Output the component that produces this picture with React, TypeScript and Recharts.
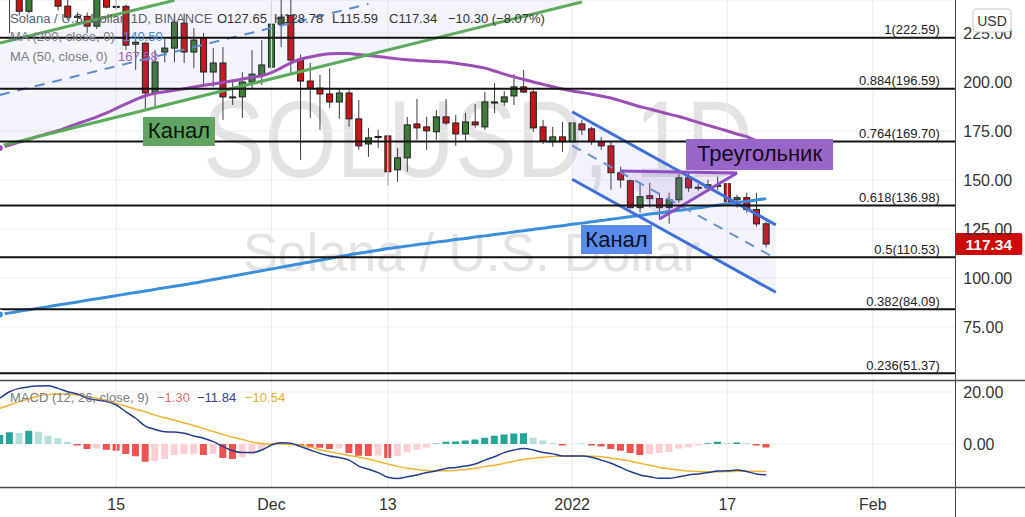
import React from 'react';
import { ComposedChart, Bar, Line, XAxis, YAxis, CartesianGrid, ReferenceLine, Cell } from 'recharts';

const FONT = '"Liberation Sans", Arial, sans-serif';

// one category per trading day, 3 Nov 2021 .. 9 Feb 2022 (empty space after the last candle)
const firstDay = Date.UTC(2021, 10, 3);
const days: string[] = Array.from({ length: 99 }, (_, i) =>
  new Date(firstDay + i * 86400000).toISOString().slice(0, 10)
);

const timeTicks: Record<string, string> = {
  '2021-11-15': '15',
  '2021-12-01': 'Dec',
  '2021-12-13': '13',
  '2022-01-01': '2022',
  '2022-01-17': '17',
  '2022-02-01': 'Feb',
};
const gridDays = Object.keys(timeTicks);

const opens = [
  244, 248, 245, 236.1, 250, 253, 249, 238.7, 233.1, 233.5,
  228.5, 243, 238.2, 238.6, 219.3, 219.8, 194.4, 215.3, 217.3, 230,
  215.3, 222.4, 205.1, 209.7, 192.4, 192.4, 200, 203.6, 207.6, 229.5,
  234, 211.7, 200.5, 196.9, 193.9, 189.8, 194.4, 181.2, 168.4, 172,
  172.5, 155.2, 161.3, 178.6, 177.1, 174.6, 182.2, 179.1, 173.5, 179.6,
  177.1, 189.8, 189.8, 192.9, 197.5, 194.9, 177.1, 169.5, 172, 169.5,
  178.6, 176.1, 169.5, 167.4, 153.7, 149.6, 135.9, 142, 140.5, 135.9,
  139.9, 151.1, 146, 146, 147.1, 148.1, 139.9, 141, 134.9, 127.65,
];
const highs = [
  251, 254, 250, 253, 258, 260, 252, 246, 235.5, 235.5,
  247, 246, 244, 239.5, 222.4, 220.5, 216.3, 222, 235, 235,
  227.5, 225, 217.3, 217.8, 201, 205, 216.3, 221.4, 240.7, 243,
  244, 214, 209.7, 203.6, 207, 197, 195.9, 190.8, 176.6, 175.6,
  173, 166.4, 182.2, 191.3, 182.2, 185.8, 191.3, 183.2, 184.2, 188.8,
  194.9, 199.5, 195.4, 204, 206.1, 195.9, 180.7, 177.1, 179.6, 179.6,
  180.7, 177.1, 172, 169.5, 156.7, 150.1, 148.6, 148.6, 143.5, 143.5,
  153.2, 153.7, 148, 150.1, 151.7, 148.6, 142.5, 143.5, 143.5, 128.78,
];
const lows = [
  242, 225, 234, 235, 245, 246, 236.5, 231.6, 230.5, 225,
  227, 237.5, 236.6, 216.3, 206.1, 186.3, 187.3, 210, 210, 209.7,
  207, 197.5, 197.5, 180.7, 188.3, 181.7, 197, 198.5, 206, 217.8,
  203.6, 160.3, 181.7, 175.6, 186.8, 181.2, 177.1, 165.4, 161.8, 166.4,
  147.1, 149.1, 154.2, 170.5, 165.4, 170.5, 178.1, 167.4, 169.5, 176.6,
  175.6, 184.2, 187.8, 188.3, 194.4, 174.6, 168.4, 166.9, 164.4, 169,
  173, 167.9, 165.4, 145, 146, 135.4, 133.3, 135.9, 129.8, 127.7,
  138.4, 144, 144.5, 145, 145, 138.4, 135.9, 133.3, 126.2, 115.59,
];
const closes = [
  248, 245, 236.1, 250, 253, 249, 238.7, 233.1, 233.5, 228.5,
  243, 238.2, 238.6, 218.8, 220.3, 194.4, 210.2, 217.3, 230.5, 215.3,
  221.4, 205.1, 209.7, 192.4, 192, 200, 204, 208.7, 229.5, 233.1,
  211.2, 200.5, 196.9, 193.9, 189.8, 194.4, 181.2, 167.4, 171.5, 172.2,
  154.2, 161.3, 178.1, 176.6, 175.1, 182.2, 179.1, 173.5, 179.6, 178.1,
  189.8, 189.5, 192.4, 197.5, 194.9, 176.6, 170, 172, 169.5, 179.1,
  175.6, 169.5, 167.4, 153.7, 150.1, 135.9, 141.5, 140.5, 135.9, 139.9,
  151.1, 146, 146.3, 147.6, 147.3, 138.9, 141, 134.9, 127.6, 117.34,
];
const ma50 = [
  166.3, 167.8, 169.3, 170.8, 172.3, 173.7, 175.2, 177, 178.8, 180.4,
  182.2, 184.2, 186.5, 188.8, 191, 193, 194.2, 195, 195.8, 196.6,
  197.4, 198.3, 199, 199.8, 200.6, 201.5, 202.4, 203.2, 204.8, 207.2,
  209.8, 211.6, 212.8, 213.8, 214.4, 214.6, 214.5, 214, 213.5, 213,
  212.4, 211.8, 211.4, 211, 210.7, 210.4, 210.2, 209.6, 208.8, 208,
  207.1, 205.6, 204, 202.6, 201.3, 200, 198.8, 197.6, 196.4, 195.4,
  194.6, 193.8, 192.9, 191.8, 190.4, 188.9, 187.4, 186.2, 184.9, 183.6,
  182.4, 180.9, 179.4, 177.9, 176.5, 175, 173.5, 172.1, 169.9, 167.6,
];
const ma200 = [
  81.4, 82.2, 83, 83.8, 84.6, 85.4, 86.2, 87, 87.8, 88.6,
  89.4, 90.2, 91, 91.8, 92.6, 93.4, 94.2, 95, 95.8, 96.6,
  97.4, 98.3, 99.2, 100.1, 101, 101.9, 102.8, 103.7, 104.6, 105.5,
  106.4, 107.3, 108.2, 109.1, 110, 110.9, 111.8, 112.6, 113.4, 114.2,
  115, 115.7, 116.3, 117, 117.6, 118.3, 118.9, 119.6, 120.2, 120.9,
  121.5, 122.2, 122.8, 123.5, 124.1, 124.8, 125.4, 126.1, 126.7, 127.4,
  128, 128.7, 129.3, 130, 130.6, 131.3, 131.9, 132.6, 133.2, 133.9,
  134.5, 135.2, 135.8, 136.5, 137.1, 137.8, 138.4, 139.1, 139.8, 140.5,
];
const macdLine = [
  17.6, 20.1, 21.4, 22, 22.3, 22.4, 21.4, 20.1, 19.2, 17.6,
  16.9, 16.3, 15, 12.4, 9.9, 6.9, 5.6, 4.7, 4.6, 4.1,
  3.1, 2.2, 0.9, -1, -2.6, -3.3, -3.3, -2.3, -0.4, 0.5,
  0.3, -1, -2.3, -3.6, -4.6, -5.2, -6.2, -8.5, -9.7, -11,
  -12.8, -13.3, -12.6, -11.9, -11, -10.3, -9.4, -9, -8.5, -7.7,
  -6.2, -4.9, -3.3, -2.3, -1.7, -2.3, -3.3, -3.8, -4.6, -4.6,
  -4.6, -5.1, -6.2, -7.4, -9, -10.6, -11.9, -12.6, -13.2, -13.2,
  -12.6, -11.9, -11.5, -11, -10.4, -10.3, -10, -10.6, -11.5, -11.84,
];
const signalLine = [
  13.7, 15, 16.3, 17.4, 18.5, 19, 19.2, 19.1, 18.8, 18.3,
  17.6, 16.7, 15.6, 14.5, 13.4, 12.4, 11.1, 10.1, 9.1, 8.1,
  7.1, 6, 4.8, 3.7, 2.6, 1.7, 0.8, 0.2, 0, 0,
  -0.2, -0.5, -1.1, -2.3, -3, -3.7, -4.4, -5.1, -5.8, -6.7,
  -7.7, -8.6, -9.3, -9.8, -10.2, -10.3, -10.3, -10.1, -9.8, -9.3,
  -8.7, -8.2, -7.4, -6.6, -6, -5.5, -5.1, -4.8, -4.6, -4.6,
  -4.6, -4.7, -4.9, -5.4, -6, -6.6, -7.4, -8.2, -9, -9.5,
  -10, -10.4, -10.6, -10.7, -10.7, -10.6, -10.5, -10.5, -10.5, -10.54,
];
const histogram = [
  3.5, 4.5, 4.2, 5.1, 4.7, 3.2, 2.2, 0.9, -0.6, -1.9,
  -1.7, -2.2, -2.6, -3.8, -4.7, -6.8, -6.4, -5.8, -4.2, -3.8,
  -3.8, -4.2, -3.8, -5.4, -5.8, -5.1, -3.8, -2.6, -0.3, 0.5,
  0.3, -0.9, -1.3, -1.4, -1.9, -1.7, -3.5, -4.5, -4.6, -4.4,
  -5.4, -4.7, -3.2, -2.2, -1.3, 0.2, 0.9, 1, 1.3, 1.7,
  2.4, 3.2, 3.7, 4, 4.1, 2.4, 1.3, 0.4, -0.6, 0,
  0.1, -0.6, -1, -1.9, -2.6, -3.5, -4.2, -3.8, -3.5, -3.2,
  -1.7, -1.3, -0.6, 0.3, 0.9, 0.4, 0.6, 0.4, -0.6, -1.3,
];

const priceTicks = [50, 75, 100, 125, 150, 175, 200, 225];
const macdTicks = [0, 20];

const fibLevels = [
  { value: 222.59, label: '1(222.59)' },
  { value: 196.59, label: '0.884(196.59)' },
  { value: 169.7, label: '0.764(169.70)' },
  { value: 136.98, label: '0.618(136.98)' },
  { value: 110.53, label: '0.5(110.53)' },
  { value: 84.09, label: '0.382(84.09)' },
  { value: 51.37, label: '0.236(51.37)' },
];

// drawings: [day index, price]
type Pt = [number, number];
const greenUpper: Pt[] = [[0, 219.9], [18, 241.7]];
const greenLower: Pt[] = [[0, 167.35], [60, 240.8]];
const greenMiddle: Pt[] = [[0, 193.4], [38, 239.8]];
const greenFill: Pt[] = [[0, 167.35], [60, 240.8], [60, 292.6], [0, 219.9]];
const blueUpper: Pt[] = [[59, 184.8], [80, 127.1]];
const blueLower: Pt[] = [[59, 150.4], [80, 92.7]];
const blueMiddle: Pt[] = [[59, 167.6], [80, 109.9]];
const blueFill: Pt[] = [[59, 184.8], [80, 127.1], [80, 92.7], [59, 150.4]];
const triangleTop: Pt[] = [[64, 154.6], [76, 153.6]];
const triangleSide: Pt[] = [[68, 130.1], [76, 153.6]];
const triangleFill: Pt[] = [[64, 154.6], [76, 153.6], [68, 130.1]];

const PRICE_MIN = 47.45;
const PRICE_MAX = 241.84;
const MACD_MIN = -16.92;
const MACD_MAX = 24.23;
const PLOT_W = 960.3;
const AXIS_W = 70;
const CHART_W = PLOT_W + AXIS_W;
const SHIFT = -4.85;

const priceRows = days.map((day, i) => ({
  day, o: opens[i], h: highs[i], l: lows[i], c: closes[i], ma50: ma50[i], ma200: ma200[i],
}));
const macdRows = days.map((day, i) => ({
  day, macd: macdLine[i], signal: signalLine[i], hist: histogram[i],
}));
const lastClose = closes[closes.length - 1];

const candleRange = (d: any) =>
  d.c == null || d.l >= PRICE_MAX ? null : [d.l, Math.min(d.h, PRICE_MAX)];

const Candle = (props: any) => {
  const { x, y, width, height, payload } = props;
  if (!payload || payload.c == null || !(height > 0)) return null;
  const top = Math.min(payload.h, PRICE_MAX);
  const k = height / (top - payload.l);
  const py = (v: number) => y + (top - v) * k;
  const cx = x + width / 2;
  const up = payload.c >= payload.o;
  const bodyTop = py(Math.max(payload.o, payload.c));
  const bodyH = Math.max(1, py(Math.min(payload.o, payload.c)) - bodyTop);
  return (
    <g>
      <line x1={cx} x2={cx} y1={py(payload.h)} y2={py(payload.l)} stroke="#3a3a3a" strokeWidth={1} />
      <rect x={x + 0.5} y={bodyTop} width={width - 1} height={bodyH}
        fill={up ? '#3d7c35' : '#c91414'} stroke="#1d1d1d" strokeWidth={1} />
    </g>
  );
};

const histColor = (i: number) => {
  const v = histogram[i];
  const prev = i > 0 ? histogram[i - 1] : 0;
  if (v >= 0) return v > prev ? '#26a69a' : '#b2dfdb';
  return v < prev ? '#ef5350' : '#ffcdd2';
};

const seg = (pts: Pt[]) => [
  { x: days[pts[0][0]], y: pts[0][1] },
  { x: days[pts[1][0]], y: pts[1][1] },
];

const drawLine = (key: string, pts: Pt[], stroke: string, width: number, dash?: string) => (
  <ReferenceLine key={key} ifOverflow="visible" segment={seg(pts) as any}
    stroke={stroke} strokeWidth={width} strokeDasharray={dash} />
);

// polygon placed with the pixel positions the axis scales give to its first two points
const drawFill = (key: string, pts: Pt[], fill: string) => (
  <ReferenceLine key={key} ifOverflow="visible" segment={seg(pts) as any}
    shape={(p: any) => {
      const { x1, y1, x2, y2 } = p;
      if ([x1, y1, x2, y2].some((v) => typeof v !== 'number' || isNaN(v))) return <g />;
      const sx = (x2 - x1) / (pts[1][0] - pts[0][0]);
      const sy = (y2 - y1) / (pts[1][1] - pts[0][1]);
      const points = pts
        .map((q) => `${x1 + (q[0] - pts[0][0]) * sx},${y1 + (q[1] - pts[0][1]) * sy}`)
        .join(' ');
      return <polygon points={points} fill={fill} stroke="none" />;
    }} />
);

const FibLabel = ({ viewBox, text }: any) => {
  if (!viewBox) return null;
  return (
    <text x={viewBox.x + viewBox.width - 15.5} y={viewBox.y - 3.5} textAnchor="end"
      fontSize={13} fill="#222">{text}</text>
  );
};

const PriceTag = ({ viewBox, text }: any) => {
  if (!viewBox) return null;
  const x = viewBox.x + viewBox.width;
  return (
    <g>
      <rect x={x} y={viewBox.y - 11} width={67} height={22} rx={2} fill="#cc0a0a" />
      <text x={x + 33.5} y={viewBox.y + 5.5} textAnchor="middle" fontSize={15.5}
        fontWeight="bold" fill="#fff">{text}</text>
    </g>
  );
};

const DateTick = ({ x, y, payload }: any) => {
  const label = timeTicks[payload?.value];
  if (!label) return null;
  return <text x={x} y={y} dy={14} textAnchor="middle" fontSize={16} fill="#333">{label}</text>;
};

export default function App() {
  return (
    <div style={{ position: 'absolute', left: 0, top: 0, width: 1025, height: 517, overflow: 'hidden', background: '#fff', fontFamily: FONT }}>
      <svg width={1025} height={517} style={{ position: 'absolute', left: 0, top: 0 }}>
        <text x={203} y={177} fontSize={110} fill="#e3e3e3" textLength={550} lengthAdjust="spacingAndGlyphs">SOLUSD, 1D</text>
        <text x={243} y={271} fontSize={53} fill="#e3e3e3" textLength={457} lengthAdjust="spacingAndGlyphs">Solana / U.S. Dollar</text>
      </svg>

      <div style={{ position: 'absolute', left: SHIFT, top: 0, width: CHART_W, height: 381, overflow: 'hidden' }}>
        <ComposedChart width={CHART_W} height={381} data={priceRows}
          margin={{ top: 0, right: 0, bottom: 0, left: 0 }} barCategoryGap="14%">
          <CartesianGrid vertical={false} stroke="#efefef" />
          <XAxis dataKey="day" hide />
          <YAxis orientation="right" width={AXIS_W} domain={[PRICE_MIN, PRICE_MAX]} allowDataOverflow
            ticks={priceTicks} tickFormatter={(v: number) => v.toFixed(2)} axisLine={false} tickLine={false}
            tick={{ fontSize: 16, fill: '#333' }} />
          {gridDays.map((d) => <ReferenceLine key={`g${d}`} x={d} stroke="#ebebeb" />)}
          {drawFill('gf', greenFill, 'rgba(120,120,215,0.08)')}
          {drawFill('bf', blueFill, 'rgba(110,125,220,0.09)')}
          {drawFill('tf', triangleFill, 'rgba(150,90,205,0.12)')}
          <Bar dataKey={candleRange} shape={(p: any) => <Candle {...p} />} isAnimationActive={false} />
          <Line dataKey="ma200" type="monotone" stroke="#3b8fda" strokeWidth={3} dot={false} isAnimationActive={false} />
          <Line dataKey="ma50" type="monotone" stroke="#9c50b6" strokeWidth={3} dot={false} isAnimationActive={false} />
          {drawLine('gu', greenUpper, '#5bab5b', 3)}
          {drawLine('gl', greenLower, '#5bab5b', 3)}
          {drawLine('gm', greenMiddle, '#5b8ad0', 2, '10 8')}
          {drawLine('bu', blueUpper, '#3f6fd9', 3)}
          {drawLine('bl', blueLower, '#3f6fd9', 3)}
          {drawLine('bm', blueMiddle, '#6b90cc', 2, '10 8')}
          {drawLine('tt', triangleTop, '#8d4fc3', 3)}
          {drawLine('ts', triangleSide, '#8d4fc3', 3)}
          {fibLevels.map((f) => (
            <ReferenceLine key={`f${f.value}`} y={f.value} stroke="#111" strokeWidth={2}
              label={<FibLabel text={f.label} />} />
          ))}
          <ReferenceLine y={lastClose} stroke="none" ifOverflow="visible"
            label={<PriceTag text={lastClose.toFixed(2)} />} />
        </ComposedChart>
      </div>

      <div style={{ position: 'absolute', left: SHIFT, top: 381, width: CHART_W, height: 136, overflow: 'hidden' }}>
        <ComposedChart width={CHART_W} height={136} data={macdRows}
          margin={{ top: 0, right: 0, bottom: 0, left: 0 }} barCategoryGap="12%">
          <CartesianGrid vertical={false} stroke="#efefef" />
          <XAxis dataKey="day" interval={0} height={29} tickLine={false} axisLine={false} tick={<DateTick />} />
          <YAxis orientation="right" width={AXIS_W} domain={[MACD_MIN, MACD_MAX]} allowDataOverflow
            ticks={macdTicks} tickFormatter={(v: number) => v.toFixed(2)} axisLine={false} tickLine={false}
            tick={{ fontSize: 16, fill: '#333' }} />
          {gridDays.map((d) => <ReferenceLine key={`m${d}`} x={d} stroke="#ebebeb" />)}
          <Bar dataKey="hist" isAnimationActive={false}>
            {macdRows.map((r, i) => <Cell key={r.day} fill={histColor(i)} />)}
          </Bar>
          <Line dataKey="signal" type="monotone" stroke="#f0b432" strokeWidth={1.5} dot={false} isAnimationActive={false} />
          <Line dataKey="macd" type="monotone" stroke="#223d8f" strokeWidth={1.5} dot={false} isAnimationActive={false} />
        </ComposedChart>
      </div>

      <svg width={1025} height={517} style={{ position: 'absolute', left: 0, top: 0, pointerEvents: 'none' }}>
        <line x1={0} x2={1025} y1={380.5} y2={380.5} stroke="#4a4a4a" strokeWidth={1.5} />
        <line x1={0} x2={1025} y1={487.5} y2={487.5} stroke="#4a4a4a" strokeWidth={1.5} />
        <line x1={955.5} x2={955.5} y1={0} y2={517} stroke="#4a4a4a" strokeWidth={1} />

        <text y={23} fontSize={13}>
          <tspan x={10} fill="#5d606b">Solana / U.S. Dollar, 1D, BINANCE</tspan>
          <tspan x={217} fill="#333">O127.65</tspan>
          <tspan x={274} fill="#333">H128.78</tspan>
          <tspan x={332} fill="#333">L115.59</tspan>
          <tspan x={389} fill="#333">C117.34</tspan>
          <tspan x={448} fill="#333">−10.30 (−8.07%)</tspan>
        </text>
        <text y={41} fontSize={13}>
          <tspan x={10} fill="#787b86">MA (200, close, 0)</tspan>
          <tspan x={123} fill="#3b8fda">140.50</tspan>
        </text>
        <text y={61} fontSize={13}>
          <tspan x={10} fill="#787b86">MA (50, close, 0)</tspan>
          <tspan x={118} fill="#a15bb9">167.58</tspan>
        </text>
        <text y={402} fontSize={13}>
          <tspan x={10} fill="#787b86">MACD (12, 26, close, 9)</tspan>
          <tspan x={157} fill="#e06c6c">−1.30</tspan>
          <tspan x={197} fill="#2c3f8f">−11.84</tspan>
          <tspan x={245} fill="#e6b130">−10.54</tspan>
        </text>

        <rect x={143} y={117} width={72} height={29} fill="#62a562" />
        <text x={179} y={138} fontSize={22} textAnchor="middle" fill="#0b160b">Канал</text>
        <rect x={581} y={225} width={71} height={29} fill="#5a8cee" />
        <text x={616.5} y={247} fontSize={22} textAnchor="middle" fill="#0b0f1c">Канал</text>
        <rect x={686} y={139} width={147} height={31} fill="#9866c8" />
        <text x={759.5} y={161} fontSize={22} textAnchor="middle" fill="#120b18">Треугольник</text>

        <rect x={973} y={9} width={38} height={23} rx={3} fill="#fff" stroke="#c8c8c8" />
        <text x={992} y={26} fontSize={14} textAnchor="middle" fill="#333">USD</text>
      </svg>
    </div>
  );
}
